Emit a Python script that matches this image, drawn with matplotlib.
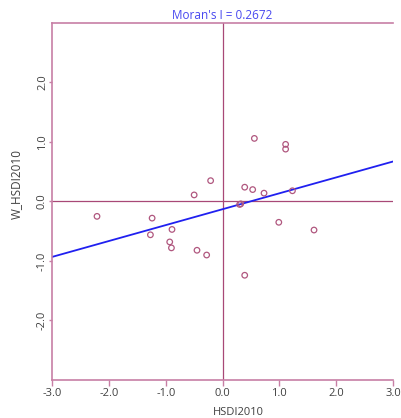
import matplotlib
matplotlib.use("Agg")
import matplotlib.pyplot as plt
import numpy as np

# Moran scatter data (standardised HSDI2010 vs spatial lag)
hsdi = [-2.21, -1.24, -1.27, -0.89, -0.93, -0.90, -0.45, -0.28, -0.50, -0.21,
        0.32, 0.39, 0.53, 0.56, 0.73, 1.11, 1.11, 1.23, 0.99, 1.61, 0.39, 0.30]
w_hsdi = [-0.25, -0.28, -0.56, -0.47, -0.68, -0.78, -0.82, -0.90, 0.11, 0.35,
          -0.04, 0.24, 0.20, 1.06, 0.14, 0.96, 0.88, 0.18, -0.35, -0.48, -1.24, -0.05]
morans_i = 0.2672
intercept = -0.13
ticks = [-3.0, -2.0, -1.0, 0.0, 1.0, 2.0, 3.0]
yticks = [-2.0, -1.0, 0.0, 1.0, 2.0]

plt.rcParams["font.family"] = ["Open Sans", "DejaVu Sans"]
frame_col = "#c77fa5"
ref_col = "#a84877"
pt_col = "#b0577f"
txt_col = "#404040"

fig = plt.figure(figsize=(4.01, 4.18), dpi=100)
ax = fig.add_axes([0.13, 0.091, 0.85, 0.854])

ax.axvline(0, color=ref_col, linewidth=0.9, zorder=1)
ax.axhline(0, color=ref_col, linewidth=0.9, zorder=1)

ax.scatter(hsdi, w_hsdi, s=16, facecolors="none", edgecolors=pt_col, linewidths=0.9, zorder=3)

xs = np.array([-3.0, 3.0])
ax.plot(xs, intercept + morans_i * xs, color="#2020f0", linewidth=1.3, zorder=2)

ax.set_xlim(-3, 3)
ax.set_ylim(-3, 3)
ax.set_xticks(ticks)
ax.set_xticklabels([f"{t:.1f}" for t in ticks], fontsize=8, color=txt_col)
ax.set_yticks(yticks)
ax.set_yticklabels([f"{t:.1f}" for t in yticks], fontsize=8, color=txt_col,
                   rotation=90, va="center")

for side in ["left", "top", "bottom"]:
    ax.spines[side].set_color(frame_col)
    ax.spines[side].set_linewidth(1.2)
ax.spines["right"].set_visible(False)
ax.tick_params(axis="x", colors=frame_col, length=4, width=1, labelcolor=txt_col, pad=2)
ax.tick_params(axis="y", colors=frame_col, length=2, width=1, labelcolor=txt_col, pad=1)

ax.set_title("Moran's I = 0.2672", fontsize=8.5, color="#4848f0", pad=3)
ax.set_xlabel("HSDI2010", fontsize=8, color=txt_col, labelpad=1)
ax.xaxis.set_label_coords(0.545, -0.075)
ax.set_ylabel("W_HSDI2010", fontsize=8.5, color=txt_col, labelpad=4)
ax.yaxis.set_label_coords(-0.085, 0.55)

fig.savefig("out.png", dpi=100)
